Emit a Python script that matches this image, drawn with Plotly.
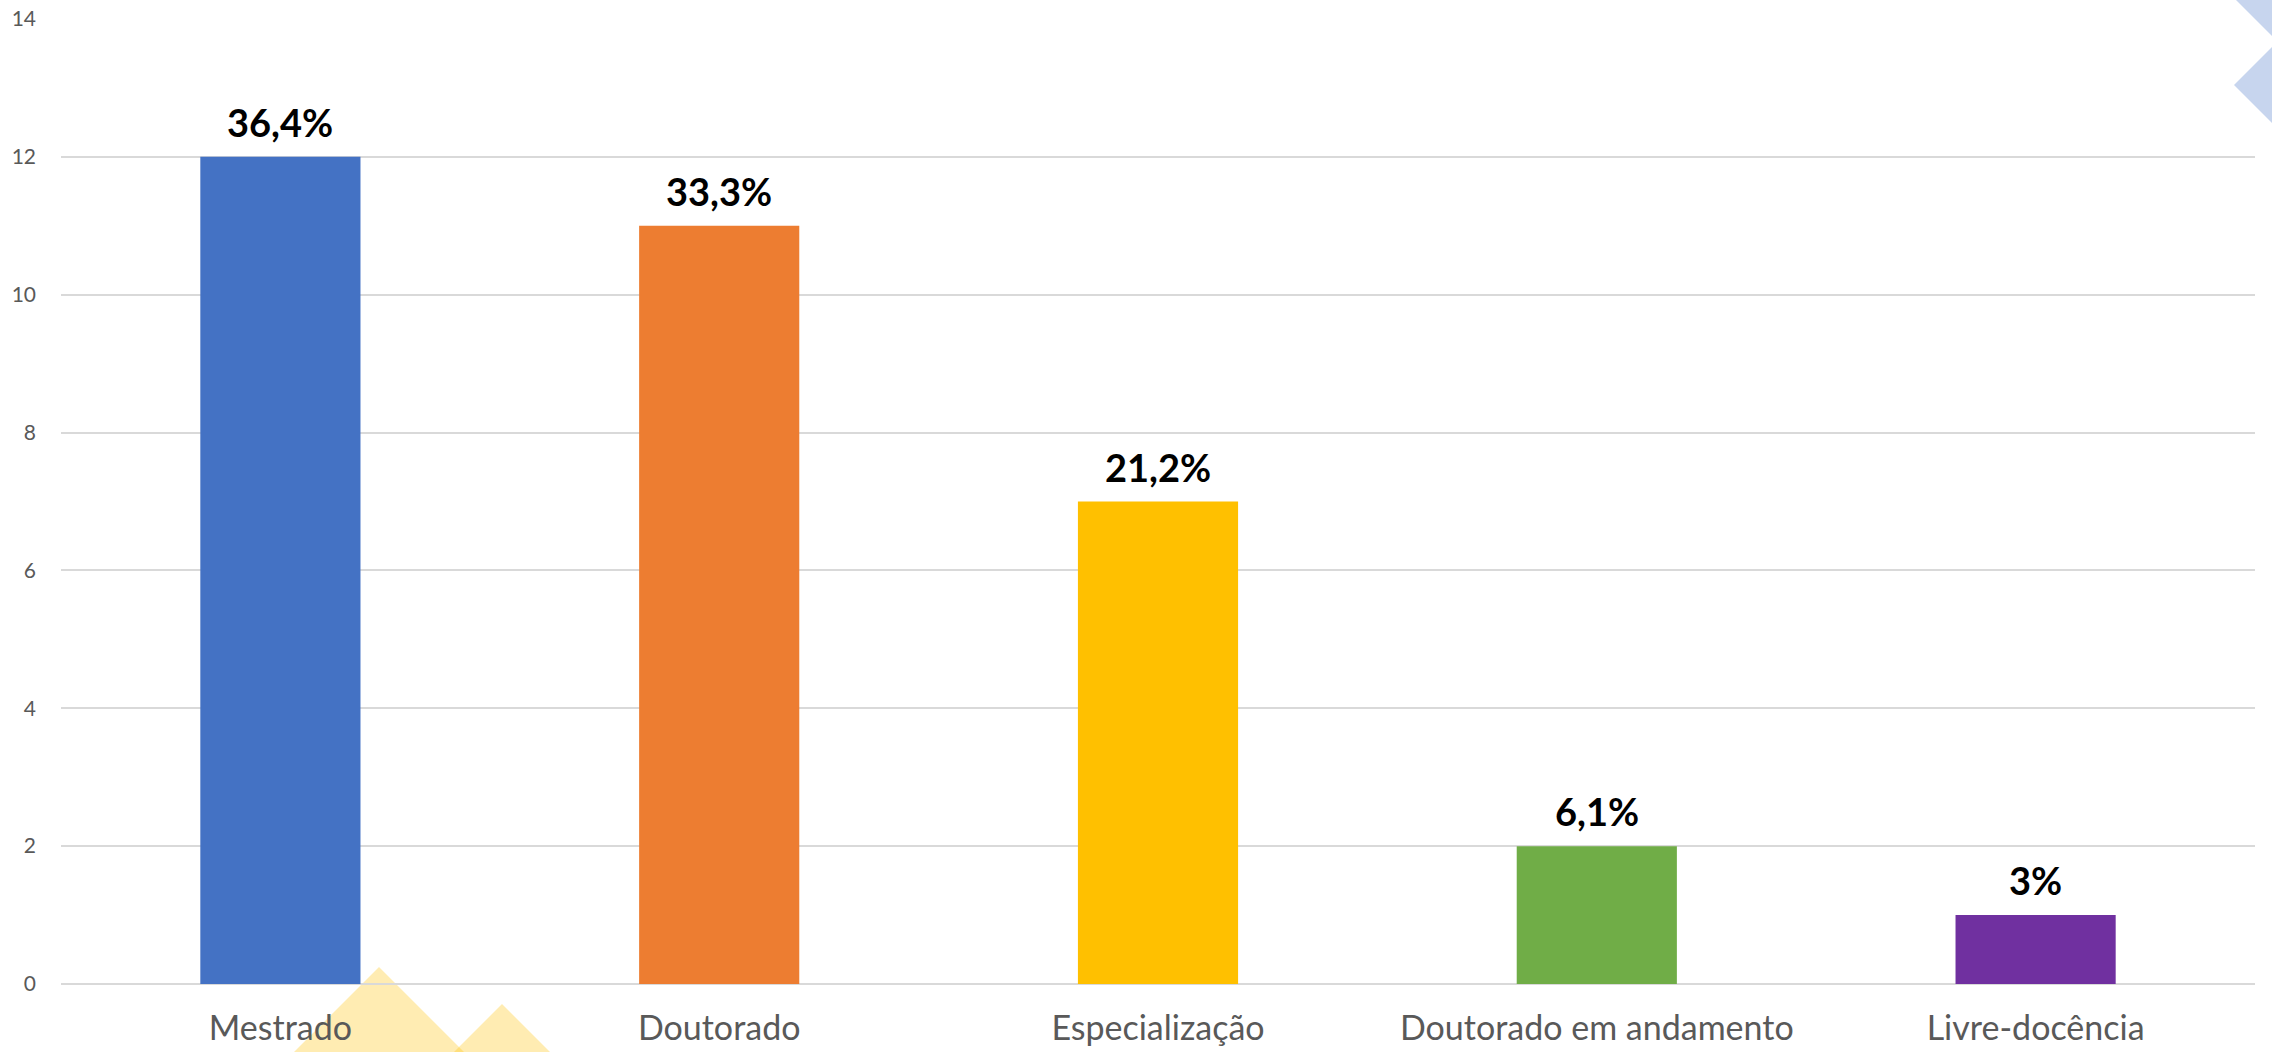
import plotly.graph_objects as go

categories = ["Mestrado", "Doutorado", "Especialização", "Doutorado em andamento", "Livre-docência"]
counts = [12, 11, 7, 2, 1]
pct_labels = ["36,4%", "33,3%", "21,2%", "6,1%", "3%"]
bar_colors = ["#4472C4", "#ED7D31", "#FFC000", "#70AD47", "#7030A0"]
y_ticks = [0, 2, 4, 6, 8, 10, 12, 14]

W, H = 2272, 1052
L, R, T, B = 61, 17, 19, 68
PW, PH = W - L - R, H - T - B

def px(x):
    return (x - L) / PW

def py(y):
    return (H - B - y) / PH

fig = go.Figure(go.Bar(
    x=categories, y=counts,
    marker=dict(color=bar_colors, line=dict(width=0)),
    cliponaxis=False,
))

for cat, val, lab in zip(categories, counts, pct_labels):
    fig.add_annotation(
        x=cat, y=val, text=lab, showarrow=False, yanchor="bottom", yshift=10,
        font=dict(family="Lato", size=38, color="#000000", weight="bold"),
    )

# decorative slide shapes
def tri(points, color, opacity):
    d = "M " + " L ".join(f"{px(a)},{py(b)}" for a, b in points) + " Z"
    return dict(type="path", path=d, xref="paper", yref="paper",
                fillcolor=color, line=dict(width=0), layer="below", opacity=opacity)

fig.update_layout(shapes=[
    tri([(379, 967), (294, 1052), (464, 1052)], "#FFC000", 0.3),
    tri([(502, 1004), (454, 1052), (550, 1052)], "#FFC000", 0.3),
    tri([(2236, 0), (2272, 0), (2272, 36)], "#C7D5EE", 1),
    tri([(2234, 85), (2272, 47), (2272, 123)], "#C7D5EE", 1),
])

fig.update_layout(
    width=W, height=H,
    margin=dict(l=L, r=R, t=T, b=B, pad=0, autoexpand=False),
    paper_bgcolor="#FFFFFF", plot_bgcolor="rgba(0,0,0,0)",
    bargap=0.635, showlegend=False,
    font=dict(family="Lato", color="#595959"),
)
fig.update_yaxes(
    range=[0, 14], tickvals=y_ticks, showgrid=True, gridcolor="#D9D9D9", gridwidth=1.5,
    zeroline=True, zerolinecolor="#D9D9D9", zerolinewidth=1.5,
    tickfont=dict(family="Lato", size=21, color="#595959"), ticklabelstandoff=24,
    showline=False, automargin=False,
)
fig.update_xaxes(
    tickfont=dict(family="Lato", size=34, color="#595959"), ticklabelstandoff=21,
    showline=False, showgrid=False, automargin=False,
)

fig.write_html(
    "out.html",
    config={"displayModeBar": False},
    post_script="document.body.style.margin='0';document.body.style.overflow='hidden';",
)
